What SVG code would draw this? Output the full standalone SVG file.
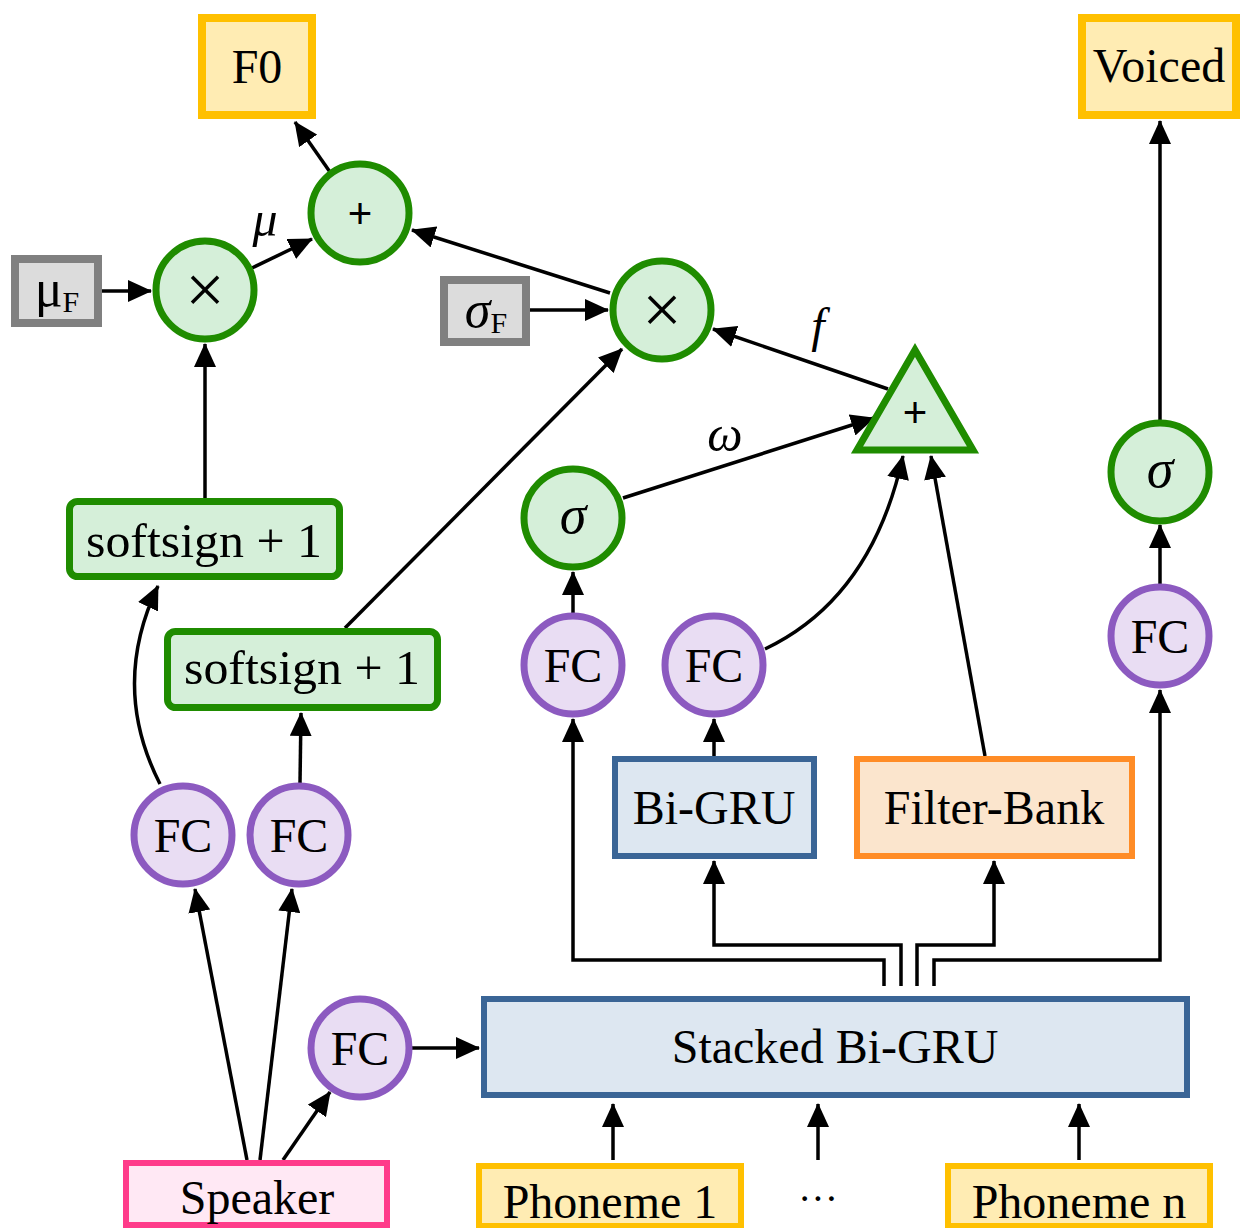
<svg xmlns="http://www.w3.org/2000/svg" width="1241" height="1228" viewBox="0 0 1241 1228">
  <defs>
    <marker id="arr" viewBox="0 0 24 22" refX="23" refY="11" markerWidth="24" markerHeight="22" orient="auto" markerUnits="userSpaceOnUse">
      <path d="M0,0 L24,11 L0,22 z" fill="#000"/>
    </marker>
    <style>
      text { font-family: "Liberation Serif", "Times New Roman", serif; fill: #000; }
      .lbl { font-size: 48px; text-anchor: middle; }
      .it { font-style: italic; }
      .op { font-family: "Liberation Sans", Arial, sans-serif; font-size: 42px; text-anchor: middle; }
      .green { fill: #d5efd9; stroke: #1f8c00; stroke-width: 7; }
      .purple { fill: #e9ddf3; stroke: #8c5ac0; stroke-width: 7; }
      .gray { fill: #dcdcdc; stroke: #808080; stroke-width: 8; }
      .yellow { fill: #ffecb3; stroke: #ffc000; stroke-width: 8; }
      .yellow6 { fill: #ffecb3; stroke: #ffc000; stroke-width: 6; }
      .blue { fill: #dde7f1; stroke: #3a6596; stroke-width: 6; }
      .orange { fill: #fbe5cd; stroke: #ff8c26; stroke-width: 6; }
      .pink { fill: #ffe8f4; stroke: #ff3b8a; stroke-width: 6; }
      .wa { fill: none; stroke: #000; stroke-width: 3.5; marker-end: url(#arr); }
    </style>
  </defs>

  <rect width="1241" height="1228" fill="#fff"/>

  <!-- connectors -->
  <g id="connectors">
    <!-- speaker branch -->
    <line class="wa" x1="247" y1="1160" x2="195" y2="889"/>
    <line class="wa" x1="260" y1="1160" x2="292" y2="889"/>
    <line class="wa" x1="283" y1="1160" x2="330" y2="1092"/>
    <line class="wa" x1="412" y1="1048" x2="479" y2="1048"/>
    <!-- phonemes into encoder -->
    <line class="wa" x1="613" y1="1160" x2="613" y2="1104"/>
    <line class="wa" x1="818" y1="1160" x2="818" y2="1104"/>
    <line class="wa" x1="1079" y1="1160" x2="1079" y2="1104"/>
    <!-- encoder outputs -->
    <path class="wa" d="M884 986 V960 H573 V719"/>
    <path class="wa" d="M901 986 V945 H714 V861"/>
    <path class="wa" d="M917 986 V945 H994 V861"/>
    <path class="wa" d="M934 986 V960 H1160 V690"/>
    <!-- middle column -->
    <line class="wa" x1="573" y1="613" x2="573" y2="572"/>
    <line class="wa" x1="714" y1="756" x2="714" y2="719"/>
    <path class="wa" d="M765 649 Q 872 598 903 456"/>
    <line class="wa" x1="985" y1="756" x2="931" y2="456"/>
    <line class="wa" x1="623" y1="498" x2="874" y2="418"/>
    <line class="wa" x1="888" y1="389" x2="713" y2="329"/>
    <!-- scale / offset -->
    <line class="wa" x1="345" y1="628" x2="622" y2="349"/>
    <line class="wa" x1="530" y1="310" x2="608" y2="310"/>
    <line class="wa" x1="610" y1="293" x2="412" y2="230"/>
    <line class="wa" x1="102" y1="291" x2="151" y2="291"/>
    <line class="wa" x1="205" y1="498" x2="205" y2="344"/>
    <line class="wa" x1="252" y1="268" x2="312" y2="239"/>
    <line class="wa" x1="330" y1="172" x2="295" y2="122"/>
    <!-- speaker FCs to softsign -->
    <path class="wa" d="M160 784 Q 110 686 158 586"/>
    <line class="wa" x1="300" y1="783" x2="301" y2="713"/>
    <!-- voicing branch -->
    <line class="wa" x1="1160" y1="584" x2="1160" y2="525"/>
    <line class="wa" x1="1160" y1="420" x2="1160" y2="121"/>
    <!-- edge labels -->
    <text class="it" x="265" y="236" font-size="50" text-anchor="middle">μ</text>
    <text class="it" x="818" y="342" font-size="48" text-anchor="middle">f</text>
    <text class="it" x="725" y="451" font-size="50" text-anchor="middle">ω</text>
  </g>

  <!-- outputs -->
  <g id="f0">
    <rect class="yellow" x="202" y="18" width="110" height="97"/>
    <text class="lbl" x="257" y="83">F0</text>
  </g>
  <g id="voiced">
    <rect class="yellow" x="1082" y="18" width="154" height="97"/>
    <text class="lbl" x="1159" y="82">Voiced</text>
  </g>

  <!-- operators -->
  <g id="add">
    <circle class="green" cx="360" cy="213" r="49"/>
    <text class="op" x="360" y="228">+</text>
  </g>
  <g id="mul-mu">
    <circle class="green" cx="205" cy="290" r="49"/>
    <text x="205" y="313" font-size="70" text-anchor="middle">×</text>
  </g>
  <g id="mul-sigma">
    <circle class="green" cx="662" cy="310" r="49"/>
    <text x="662" y="333" font-size="70" text-anchor="middle">×</text>
  </g>
  <g id="mu-f">
    <rect class="gray" x="15" y="259" width="83" height="64"/>
    <text x="57" y="306" font-size="52" text-anchor="middle">μ<tspan font-size="30" dy="6">F</tspan></text>
  </g>
  <g id="sigma-f">
    <rect class="gray" x="444" y="280" width="82" height="62"/>
    <text x="486" y="327" font-size="52" text-anchor="middle"><tspan font-style="italic">σ</tspan><tspan font-size="30" dy="6">F</tspan></text>
  </g>
  <g id="filter-sum">
    <polygon class="green" points="915,350 973,450 857,450"/>
    <text class="op" x="915" y="427">+</text>
  </g>
  <g id="sigma-w">
    <circle class="green" cx="573" cy="518" r="49"/>
    <text class="it" x="573" y="533" font-size="54" text-anchor="middle">σ</text>
  </g>
  <g id="sigma-v">
    <circle class="green" cx="1160" cy="472" r="49"/>
    <text class="it" x="1160" y="487" font-size="54" text-anchor="middle">σ</text>
  </g>
  <g id="softsign-mu">
    <rect class="green" x="69.5" y="501.5" width="270" height="75" rx="8"/>
    <text class="lbl" x="204" y="557" textLength="236" lengthAdjust="spacingAndGlyphs">softsign + 1</text>
  </g>
  <g id="softsign-sigma">
    <rect class="green" x="167.5" y="631.5" width="270" height="76" rx="8"/>
    <text class="lbl" x="302" y="684" textLength="236" lengthAdjust="spacingAndGlyphs">softsign + 1</text>
  </g>

  <!-- fully connected layers -->
  <g id="fc-mu">
    <circle class="purple" cx="183" cy="835" r="49"/>
    <text class="lbl" x="183" y="852">FC</text>
  </g>
  <g id="fc-sigma">
    <circle class="purple" cx="299" cy="835" r="49"/>
    <text class="lbl" x="299" y="852">FC</text>
  </g>
  <g id="fc-speaker">
    <circle class="purple" cx="360" cy="1048" r="49"/>
    <text class="lbl" x="360" y="1065">FC</text>
  </g>
  <g id="fc-w">
    <circle class="purple" cx="573" cy="665" r="49"/>
    <text class="lbl" x="573" y="682">FC</text>
  </g>
  <g id="fc-gru">
    <circle class="purple" cx="714" cy="665" r="49"/>
    <text class="lbl" x="714" y="682">FC</text>
  </g>
  <g id="fc-v">
    <circle class="purple" cx="1160" cy="636" r="49"/>
    <text class="lbl" x="1160" y="653">FC</text>
  </g>

  <!-- recurrent blocks -->
  <g id="bi-gru">
    <rect class="blue" x="615" y="759" width="199" height="97"/>
    <text class="lbl" x="714" y="824">Bi-GRU</text>
  </g>
  <g id="filter-bank">
    <rect class="orange" x="857" y="759" width="275" height="97"/>
    <text class="lbl" x="994" y="824">Filter-Bank</text>
  </g>
  <g id="stacked-bi-gru">
    <rect class="blue" x="484" y="999" width="703" height="96"/>
    <text class="lbl" x="835" y="1063">Stacked Bi-GRU</text>
  </g>

  <!-- inputs -->
  <g id="speaker">
    <rect class="pink" x="126" y="1163" width="261" height="62"/>
    <text class="lbl" x="257" y="1214">Speaker</text>
  </g>
  <g id="phoneme-1">
    <rect class="yellow6" x="479" y="1166" width="262" height="60"/>
    <text class="lbl" x="610" y="1218">Phoneme 1</text>
  </g>
  <g id="ellipsis">
    <text x="818" y="1212" font-size="40" text-anchor="middle">···</text>
  </g>
  <g id="phoneme-n">
    <rect class="yellow6" x="948" y="1166" width="262" height="60"/>
    <text class="lbl" x="1079" y="1218">Phoneme n</text>
  </g>
</svg>
